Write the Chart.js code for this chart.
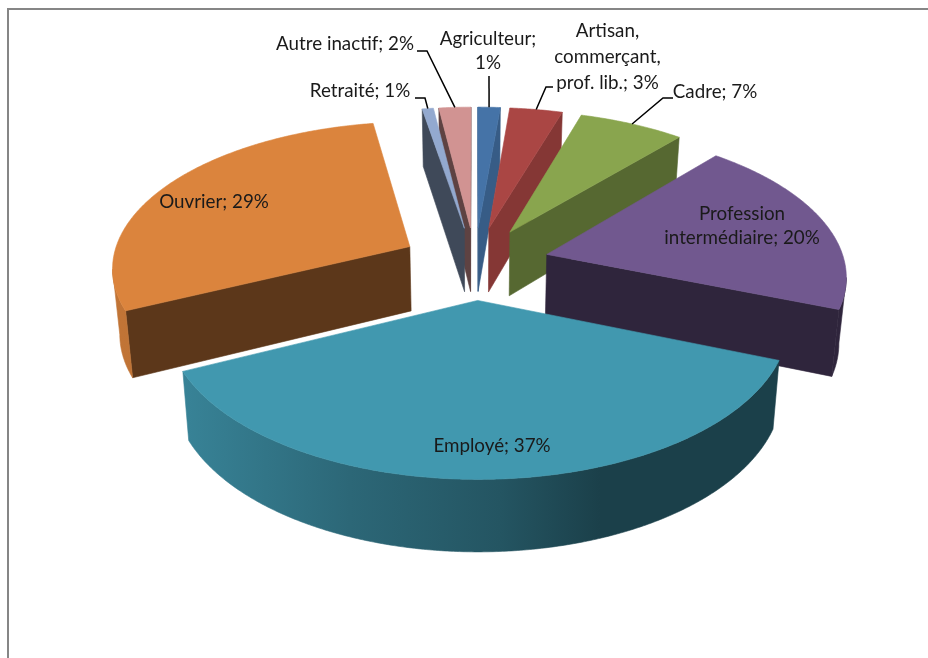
<!DOCTYPE html>
<html lang="fr">
<head>
<meta charset="utf-8">
<style>
html,body{margin:0;padding:0;background:#fff;overflow:hidden}
canvas{display:block}
</style>
<script src="https://cdn.jsdelivr.net/npm/chart.js@4"></script>
</head>
<body>
<canvas id="c" width="928" height="658"></canvas>
<script>
const categories = ["Agriculteur","Artisan, commerçant, prof. lib.","Cadre","Profession intermédiaire","Employé","Ouvrier","Retraité","Autre inactif"];
const values = [1.4,3.3,6.6,19.7,36.9,29.4,0.7,2.0];
const topColors = ["#4573A7","#AA4644","#89A54E","#71588F","#4198AF","#DB843D","#93A9CF","#D19392"];
const faceShade = [0.80,0.78,0.63,0.42,0.42,0.42,0.43,0.45];
const labelLines = [["Agriculteur;","1%"],["Artisan,","commerçant,","prof. lib.; 3%"],["Cadre; 7%"],["Profession","intermédiaire; 20%"],["Employé; 37%"],["Ouvrier; 29%"],["Retraité; 1%"],["Autre inactif; 2%"]];

// view of the tilted pie
const EXPLODE = 0.25, TILT = 0.13;
const CX = 475, CY = 263, AX = 298, AY = 145;
const SHRINK = 0.98, DEPTH = 65, DEPTH_V = 6;
function top3d(u, v){ const s = 1/(1-TILT*v); return {x:CX+AX*u*s, y:CY+AY*v*s, v}; }
function low3d(p){ return {x:CX+(p.x-CX)*SHRINK, y:p.y+DEPTH+DEPTH_V*p.v}; }

function shade(hex,f){
  const n=parseInt(hex.slice(1),16);
  return `rgb(${Math.round((n>>16&255)*f)},${Math.round((n>>8&255)*f)},${Math.round((n&255)*f)})`;
}
const shadeStops=[[120,.88],[182,.86],[350,.68],[500,.56],[600,.42],[928,.42]];
function rimGradient(ctx,hex){
  const g=ctx.createLinearGradient(0,0,928,0);
  g.addColorStop(0,shade(hex,.88));
  shadeStops.forEach(([x,f])=>g.addColorStop(x/928,shade(hex,f)));
  return g;
}
function poly(ctx,pts,col){
  ctx.beginPath(); pts.forEach((p,i)=>i?ctx.lineTo(p.x,p.y):ctx.moveTo(p.x,p.y)); ctx.closePath();
  ctx.fillStyle=col; ctx.strokeStyle=col; ctx.lineWidth=.6; ctx.fill(); ctx.stroke();
}

// text layout: centre x, centre y of each line, leader elbow points
const labelLayout = [
 {i:0,x:488,ys:[39,63],lead:[[489,76]]},
 {i:1,x:607.5,ys:[31,57,83],lead:[[553,87],[546,87]]},
 {i:2,x:715,ys:[92],lead:[[673,98],[663,98]]},
 {i:3,x:742,ys:[214,238]},
 {i:4,x:492,ys:[446]},
 {i:5,x:214,ys:[202]},
 {i:6,x:360,ys:[91],lead:[[415,98],[425,98]]},
 {i:7,x:345,ys:[44],lead:[[417,51],[427,51]]}
];

const tiltedPie = {
  id:'tiltedPie',
  beforeDatasetsDraw(chart){
    const ctx=chart.ctx, arcs=chart.getDatasetMeta(0).data;
    const slices=arcs.map((a,i)=>{
      const s=a.startAngle,e=a.endAngle,m=(s+e)/2;
      const ou=EXPLODE*Math.cos(m),ov=EXPLODE*Math.sin(m);
      const at=t=>top3d(ou+Math.cos(t),ov+Math.sin(t));
      return {i,s,e,m,ou,ov,at,vertex:top3d(ou,ov)};
    }).sort((a,b)=>a.ov-b.ov);
    const rimMid=[];
    ctx.save();
    slices.forEach(sl=>{
      const col=topColors[sl.i], {s,e,at,vertex:V}=sl;
      const n=Math.max(2,Math.ceil((e-s)/(Math.PI/360)));
      const rim=[];for(let k=0;k<=n;k++)rim.push(at(s+(e-s)*k/n));
      rimMid[sl.i]=at(sl.m);
      const C={x:(V.x+rimMid[sl.i].x)/2,y:(V.y+rimMid[sl.i].y)/2};
      const facing=(A,B)=>{
        const ex=B.x-A.x,ey=B.y-A.y;
        return (ex*(C.y-A.y)-ey*(C.x-A.x))*ex<0;
      };
      [[V,rim[0]],[V,rim[n]]].forEach(([A,B])=>{
        if(facing(A,B)) poly(ctx,[A,B,low3d(B),low3d(A)],shade(col,faceShade[sl.i]));
      });
      // visible part of the rounded wall as one strip
      const vis=[];
      for(let k=0;k<=n;k++){
        const ok=(k<n&&rim[k+1].x<rim[k].x)||(k>0&&rim[k].x<rim[k-1].x);
        if(ok)vis.push(rim[k]);
      }
      if(vis.length>1) poly(ctx,[...vis,...vis.slice().reverse().map(low3d)],rimGradient(ctx,col));
      poly(ctx,[V,...rim],col);
    });
    // frame
    ctx.strokeStyle="#868686";ctx.lineWidth=2;
    ctx.beginPath();ctx.moveTo(8,658);ctx.lineTo(8,9);ctx.lineTo(928,9);ctx.stroke();
    // labels
    ctx.font='18.8px Lato';ctx.textAlign='center';ctx.textBaseline='middle';
    labelLayout.forEach(l=>{
      ctx.fillStyle="#1a1a1a";
      labelLines[l.i].forEach((t,k)=>ctx.fillText(t,l.x,l.ys[k]));
      if(l.lead){
        ctx.strokeStyle="#000";ctx.lineWidth=1.5;
        ctx.beginPath();
        l.lead.forEach((p,k)=>k?ctx.lineTo(p[0],p[1]):ctx.moveTo(p[0],p[1]));
        ctx.lineTo(rimMid[l.i].x,rimMid[l.i].y);ctx.stroke();
      }
    });
    ctx.restore();
    return false;
  }
};

new Chart(document.getElementById('c'),{
  type:'pie',
  data:{labels:categories,datasets:[{data:values,backgroundColor:topColors,borderWidth:0}]},
  options:{responsive:false,animation:false,events:[],
    plugins:{legend:{display:false},tooltip:{enabled:false}}},
  plugins:[tiltedPie]
});
</script>
</body>
</html>
